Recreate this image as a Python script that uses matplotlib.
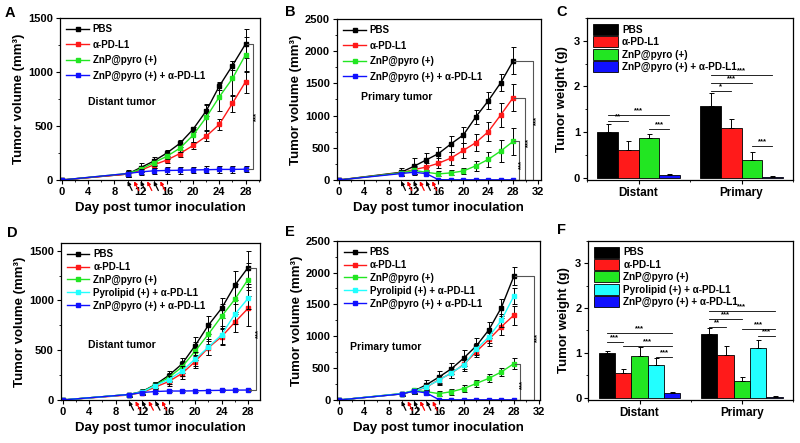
import numpy as np
import matplotlib
matplotlib.use("Agg")
import matplotlib.pyplot as plt
from matplotlib.ticker import MultipleLocator

plt.rcParams['font.family'] = ['Liberation Sans', 'DejaVu Sans']
plt.rcParams['font.weight'] = 'bold'
plt.rcParams['axes.labelweight'] = 'bold'
plt.rcParams['axes.linewidth'] = 0.9

# ---------------- data ----------------
days = [0, 10, 12, 14, 16, 18, 20, 22, 24, 26, 28]

# Panel A - distant tumor
a_pbs = [0, 55, 115, 175, 250, 340, 470, 640, 870, 1060, 1260]
a_pbs_err = [0, 30, 40, 35, 25, 30, 25, 50, 40, 40, 135]
a_pdl1 = [0, 55, 90, 140, 185, 245, 320, 405, 515, 710, 910]
a_pdl1_err = [0, 25, 30, 25, 30, 30, 30, 45, 50, 80, 100]
a_znp = [0, 60, 100, 160, 220, 295, 415, 580, 770, 940, 1160]
a_znp_err = [0, 25, 30, 30, 30, 40, 60, 120, 130, 160, 160]
a_combo = [0, 60, 75, 85, 88, 90, 93, 95, 98, 98, 100]
a_combo_err = [0, 30, 30, 30, 30, 30, 30, 30, 30, 30, 30]

# Panel B - primary tumor
b_pbs = [0, 120, 210, 310, 410, 560, 700, 980, 1230, 1510, 1850]
b_pbs_err = [0, 60, 130, 110, 110, 130, 130, 110, 130, 130, 210]
b_pdl1 = [0, 110, 160, 200, 260, 340, 460, 580, 750, 1010, 1280]
b_pdl1_err = [0, 50, 60, 60, 80, 100, 120, 130, 150, 190, 210]
b_znp = [0, 110, 150, 120, 95, 110, 140, 220, 320, 450, 600]
b_znp_err = [0, 50, 50, 40, 40, 40, 50, 80, 120, 170, 210]
b_combo = [0, 100, 120, 100, 5, 3, 3, 3, 3, 3, 3]
b_combo_err = [0, 30, 30, 30, 5, 3, 3, 3, 3, 3, 3]

# Panel D - distant tumor (5 groups)
d_pbs = [0, 55, 85, 155, 245, 360, 545, 750, 920, 1150, 1330]
d_pbs_err = [0, 20, 25, 30, 50, 60, 90, 90, 100, 150, 170]
d_pdl1 = [0, 50, 75, 130, 185, 265, 385, 525, 635, 780, 920]
d_pdl1_err = [0, 20, 25, 30, 40, 50, 60, 70, 80, 100, 180]
d_znp = [0, 55, 80, 150, 225, 330, 490, 660, 840, 1010, 1210]
d_znp_err = [0, 20, 25, 30, 45, 60, 90, 100, 120, 150, 170]
d_pyro = [0, 55, 80, 145, 205, 290, 410, 530, 655, 860, 1020]
d_pyro_err = [0, 20, 25, 30, 40, 50, 70, 80, 90, 100, 110]
d_combo = [0, 55, 75, 85, 90, 90, 92, 95, 97, 99, 100]
d_combo_err = [0, 10, 10, 10, 10, 10, 10, 10, 10, 10, 10]

# Panel E - primary tumor (5 groups)
e_pbs = [0, 95, 140, 240, 360, 490, 660, 850, 1100, 1450, 1940]
e_pbs_err = [0, 30, 50, 80, 100, 90, 120, 130, 130, 130, 140]
e_pdl1 = [0, 100, 140, 200, 320, 420, 560, 760, 950, 1150, 1330]
e_pdl1_err = [0, 30, 40, 60, 70, 70, 80, 80, 100, 130, 150]
e_znp = [0, 100, 150, 130, 100, 130, 180, 260, 340, 440, 570]
e_znp_err = [0, 30, 40, 50, 40, 50, 60, 60, 60, 60, 90]
e_pyro = [0, 100, 140, 210, 310, 430, 550, 800, 990, 1250, 1630]
e_pyro_err = [0, 30, 40, 60, 80, 90, 100, 100, 100, 100, 120]
e_combo = [0, 95, 140, 110, 5, 3, 3, 3, 3, 3, 3]
e_combo_err = [0, 20, 30, 30, 5, 3, 3, 3, 3, 3, 3]

# Panel C / F - tumor weight
groups = ['Distant', 'Primary']
c_means = [[1.00, 1.57], [0.60, 1.10], [0.88, 0.39], [0.07, 0.02]]
c_errs = [[0.17, 0.28], [0.20, 0.18], [0.08, 0.18], [0.02, 0.01]]
f_means = [[1.00, 1.43], [0.55, 0.95], [0.92, 0.37], [0.73, 1.10], [0.10, 0.02]]
f_errs = [[0.05, 0.13], [0.10, 0.20], [0.20, 0.09], [0.15, 0.18], [0.02, 0.01]]

# significance bars: (group, bar i, bar j, height, label)
c_sig = [(0, 0, 1, 1.24, '**'), (0, 0, 3, 1.38, '***'), (0, 2, 3, 1.07, '***'),
         (1, 0, 1, 1.90, '*'), (1, 0, 2, 2.07, '***'), (1, 0, 3, 2.25, '***'),
         (1, 2, 3, 0.69, '***')]
f_sig = [(0, 0, 1, 1.24, '***'), (0, 0, 4, 1.44, '***'), (0, 1, 4, 1.15, '***'),
         (0, 3, 4, 0.91, '***'),
         (1, 0, 1, 1.58, '**'), (1, 0, 2, 1.75, '***'), (1, 0, 4, 1.93, '***'),
         (1, 2, 4, 1.54, '***'), (1, 3, 4, 1.38, '***')]

labels4 = ['PBS', 'α-PD-L1', 'ZnP@pyro (+)', 'ZnP@pyro (+) + α-PD-L1']
labels5 = ['PBS', 'α-PD-L1', 'ZnP@pyro (+)', 'Pyrolipid (+) + α-PD-L1',
           'ZnP@pyro (+) + α-PD-L1']
colors4 = ['black', '#ff1a1a', '#22e622', '#1010ff']
colors5 = ['black', '#ff1a1a', '#22e622', '#22ffff', '#1010ff']

# treatment days (arrows under the x axis)
black_arrow_days = [10, 12, 14]
red_arrow_days = [11, 13, 15]


def line_panel(ax, series, errs, labels, colors, xmax, ymax, ystep, text, text_xy,
               spacing):
    for y, e, lab, c in zip(series, errs, labels, colors):
        ax.errorbar(days, y, yerr=e, fmt='none', ecolor='black', elinewidth=0.7,
                    capsize=1.8, capthick=0.7)
        ax.plot(days, y, '-s', color=c, ms=2.8, lw=1.0, label=lab)
    ax.set_xlim(-0.3, xmax)
    ax.set_ylim(0, ymax)
    ax.set_xticks(range(0, int(xmax) + 1, 4))
    ax.xaxis.set_minor_locator(MultipleLocator(2))
    ax.yaxis.set_major_locator(MultipleLocator(ystep))
    ax.yaxis.set_minor_locator(MultipleLocator(ystep / 2))
    ax.tick_params(labelsize=8, length=3, width=0.8, pad=2)
    ax.tick_params(which='minor', length=1.5, width=0.6)
    ax.set_xlabel('Day post tumor inoculation', fontsize=9.5, labelpad=4)
    ax.set_ylabel('Tumor volume (mm³)', fontsize=9.5, labelpad=2)
    ax.legend(loc='upper left', frameon=False, fontsize=7, handlelength=2.3,
              labelspacing=spacing, borderaxespad=0.25, handletextpad=0.4)
    ax.text(text_xy[0], text_xy[1], text, fontsize=7.5, va='center')
    for d in black_arrow_days + red_arrow_days:
        c = 'black' if d in black_arrow_days else 'red'
        ax.annotate('', xy=(d, -0.008), xytext=(d + 0.7, -0.065),
                    xycoords=('data', 'axes fraction'),
                    arrowprops=dict(arrowstyle='-|>', color=c, lw=0.9,
                                    mutation_scale=5, shrinkA=0, shrinkB=0),
                    annotation_clip=False)


def bracket(ax, ytop, ybot, xb, xs, ys):
    ax.plot([28.2, xb, xb, 28.2], [ytop, ytop, ybot, ybot], color='#555555',
            lw=0.8, clip_on=False)
    ax.text(xs, ys, '***', rotation=90, fontsize=5.5, ha='center', va='center',
            clip_on=False)


def bar_panel(ax, means, errs, labels, colors, sig, width):
    n = len(means)
    x = np.arange(1, len(groups) + 1)
    for i in range(n):
        pos = x + (i - (n - 1) / 2) * width
        ax.bar(pos, means[i], width, color=colors[i], edgecolor='black', lw=0.6,
               label=labels[i])
        ax.errorbar(pos, means[i], yerr=[np.zeros(len(groups)), errs[i]],
                    fmt='none', ecolor='black', elinewidth=0.7, capsize=1.8,
                    capthick=0.7)
    for g, i, j, h, lab in sig:
        x1 = x[g] + (i - (n - 1) / 2) * width
        x2 = x[g] + (j - (n - 1) / 2) * width
        ax.plot([x1, x2], [h, h], color='black', lw=0.6)
        ax.text((x1 + x2) / 2, h + 0.02, lab, fontsize=5.5, ha='center', va='bottom')
    ax.set_xlim(0.5, 2.5)
    ax.set_ylim(-0.05, 3.5)
    ax.set_xticks(x)
    ax.set_xticklabels(groups, fontsize=8.5)
    ax.set_yticks([0, 1, 2, 3])
    ax.yaxis.set_minor_locator(MultipleLocator(0.5))
    ax.xaxis.set_minor_locator(MultipleLocator(0.5))
    ax.tick_params(axis='y', labelsize=8, length=3, width=0.8, pad=2)
    ax.tick_params(axis='x', length=3, width=0.8, pad=2)
    ax.tick_params(which='minor', length=1.5, width=0.6)
    ax.set_ylabel('Tumor weight (g)', fontsize=9.5, labelpad=4)
    ax.legend(loc='upper left', frameon=False, fontsize=7.2, handlelength=2.5,
              handleheight=1.3, labelspacing=0.15, borderaxespad=0.2,
              handletextpad=0.4)


fig = plt.figure(figsize=(8, 4.43), dpi=100)

axA = fig.add_axes([0.075, 0.5937, 0.25, 0.3657])
line_panel(axA, [a_pbs, a_pdl1, a_znp, a_combo],
           [a_pbs_err, a_pdl1_err, a_znp_err, a_combo_err],
           labels4, colors4, 30.2, 1500, 500, 'Distant tumor', (4, 720), 0.55)
bracket(axA, a_pbs[-1], a_combo[-1], 29.2, 29.7, 590)

axB = fig.add_axes([0.4213, 0.5937, 0.2544, 0.3634])
line_panel(axB, [b_pbs, b_pdl1, b_znp, b_combo],
           [b_pbs_err, b_pdl1_err, b_znp_err, b_combo_err],
           labels4, colors4, 32.4, 2500, 500, 'Primary tumor', (3.6, 1290), 0.55)
bracket(axB, b_pbs[-1], 0, 31.2, 31.8, 930)
bracket(axB, b_pdl1[-1], 0, 29.9, 30.5, 575)
bracket(axB, b_znp[-1], 0, 28.9, 29.3, 235)

axC = fig.add_axes([0.7338, 0.5937, 0.2575, 0.3657])
bar_panel(axC, c_means, c_errs, labels4, colors4, c_sig, 0.2)

axD = fig.add_axes([0.0759, 0.0971, 0.249, 0.3551])
line_panel(axD, [d_pbs, d_pdl1, d_znp, d_pyro, d_combo],
           [d_pbs_err, d_pdl1_err, d_znp_err, d_pyro_err, d_combo_err],
           labels5, colors5, 29.8, 1580, 500, 'Distant tumor', (3.8, 555), 0.3)
axD.set_yticks([0, 500, 1000, 1500])
bracket(axD, d_pbs[-1], d_combo[-1], 29.2, 29.6, 670)

axE = fig.add_axes([0.4216, 0.0971, 0.2534, 0.3596])
line_panel(axE, [e_pbs, e_pdl1, e_znp, e_pyro, e_combo],
           [e_pbs_err, e_pdl1_err, e_znp_err, e_pyro_err, e_combo_err],
           labels5, colors5, 32.2, 2500, 500, 'Primary tumor', (1.7, 835), 0.3)
bracket(axE, e_pbs[-1], 0, 31.2, 31.8, 980)
bracket(axE, e_znp[-1], 0, 29.0, 29.5, 240)

axF = fig.add_axes([0.7354, 0.0971, 0.256, 0.3596])
bar_panel(axF, f_means, f_errs, labels5, colors5, f_sig, 0.16)

for lab, x, y in [('A', 10, 13), ('B', 290, 12), ('C', 562, 12),
                  ('D', 12, 233), ('E', 290, 232), ('F', 562, 230)]:
    fig.text(x / 800, 1 - y / 443, lab, fontsize=10.5, ha='center', va='center')

fig.savefig('out.png', dpi=100)
